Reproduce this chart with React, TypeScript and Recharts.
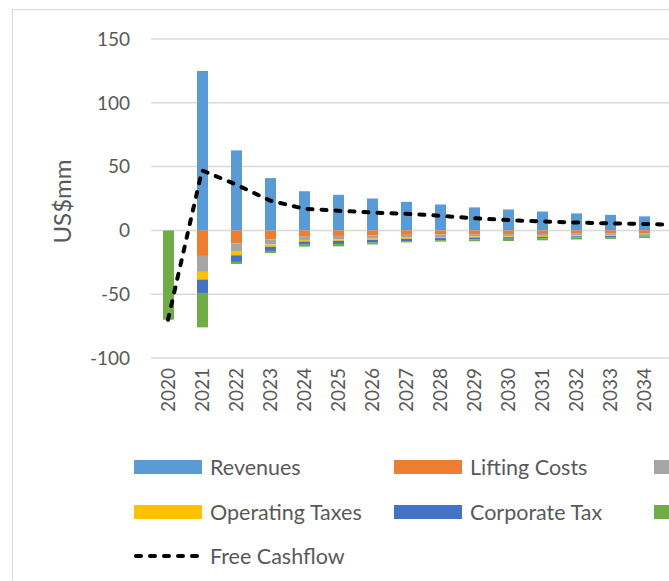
import { Bar, CartesianGrid, ComposedChart, Line, XAxis, YAxis } from 'recharts'

const years = ['2020', '2021', '2022', '2023', '2024', '2025', '2026', '2027', '2028', '2029', '2030', '2031', '2032', '2033', '2034', '2035']
const revenues = [0, 125, 62.7, 41, 30.7, 27.9, 25, 22.4, 20.3, 18, 16.4, 14.8, 13.3, 12.2, 11, 10]
const liftingCosts = [0, -20, -10.2, -7, -4.5, -4.3, -3.9, -3.5, -3.2, -3.0, -2.9, -2.8, -2.6, -2.5, -2.3, -2.1]
const royalties = [0, -12.5, -6.5, -4, -3, -2.8, -2.5, -2.2, -2.0, -1.8, -1.7, -1.5, -1.4, -1.3, -1.2, -1.1]
const operatingTaxes = [0, -6, -2.8, -1.8, -1.2, -1.1, -1.0, -0.9, -0.8, -0.8, -0.7, -0.7, -0.6, -0.6, -0.5, -0.5]
const corporateTax = [0, -10.5, -5.2, -3.3, -2.5, -2.4, -2.1, -1.8, -1.6, -1.4, -1.3, -1.1, -1.0, -0.9, -0.8, -0.7]
const capex = [-70, -27, -1.6, -1.6, -1.5, -1.9, -1.5, -1.0, -1.2, -1.5, -1.7, -1.7, -1.5, -1.4, -1.2, -1.2]
const freeCashflow = [-70, 47, 36, 23.4, 17, 15.4, 14, 13, 11.5, 9.5, 8.1, 7, 6.2, 5.5, 5, 4.4]
const yTicks = [-100, -50, 0, 50, 100, 150]

const series = [
  { key: 'revenues', name: 'Revenues', color: '#5B9BD5', values: revenues },
  { key: 'liftingCosts', name: 'Lifting Costs', color: '#ED7D31', values: liftingCosts },
  { key: 'royalties', name: 'Royalties', color: '#A5A5A5', values: royalties },
  { key: 'operatingTaxes', name: 'Operating Taxes', color: '#FFC000', values: operatingTaxes },
  { key: 'corporateTax', name: 'Corporate Tax', color: '#4472C4', values: corporateTax },
  { key: 'capex', name: 'Capex', color: '#70AD47', values: capex },
]

const data = years.map((year, i) => {
  const row: Record<string, string | number> = { year, freeCashflow: freeCashflow[i] }
  series.forEach(s => { row[s.key] = s.values[i] })
  return row
})

const FONT = 'Lato, "Noto Sans", sans-serif'
const TEXT = '#595959'
const DASH = '5 9'

function YearTick({ x, y, payload }: { x?: number; y?: number; payload?: { value: string } }) {
  return (
    <text x={x} y={y} dy="0.35em" textAnchor="end" fill={TEXT} fontSize={19} fontFamily={FONT}
      transform={`rotate(-90, ${x}, ${y})`}>
      {payload?.value}
    </text>
  )
}

function LegendItem({ left, top, name, color, dashed }: { left: number; top: number; name: string; color: string; dashed?: boolean }) {
  return (
    <div style={{ position: 'absolute', left, top, display: 'flex', alignItems: 'center', whiteSpace: 'nowrap' }}>
      {dashed ? (
        <svg width={68} height={14} style={{ display: 'block' }}>
          <line x1={2} y1={7} x2={66} y2={7} stroke="#000" strokeWidth={4} strokeDasharray={DASH} strokeLinecap="round" />
        </svg>
      ) : (
        <div style={{ width: 68, height: 14, background: color }} />
      )}
      <span style={{ marginLeft: 8, fontSize: 21.5, color: TEXT, fontFamily: FONT, lineHeight: '24px' }}>{name}</span>
    </div>
  )
}

// legend grid is three columns, Excel-style; the third one runs off the crop
const legendCols = [134, 394, 654]
const legendRows = [455, 500, 544]

export default function App() {
  return (
    <div style={{ position: 'fixed', left: 0, top: 0, width: 669, height: 581, overflow: 'hidden', background: '#fff' }}>
      <div style={{ position: 'absolute', left: 12, top: 9, width: 900, height: 700, border: '1px solid #d9d9d9' }} />
      <div style={{ position: 'absolute', left: 0, top: 0 }}>
        <ComposedChart width={705} height={581} data={data} stackOffset="sign"
          margin={{ top: 39, right: 10, bottom: 0, left: 0 }} barSize={11}>
          <CartesianGrid vertical={false} stroke="#d9d9d9" strokeWidth={1.5} />
          <XAxis dataKey="year" interval={0} axisLine={false} tickLine={false} tickSize={0} tickMargin={10}
            height={223} tick={<YearTick />} />
          <YAxis domain={[-100, 150]} ticks={yTicks} width={151} axisLine={false} tickLine={false}
            tickSize={0} tickMargin={21} allowDataOverflow
            tick={{ fill: TEXT, fontSize: 19, fontFamily: FONT }}
            label={{ value: 'US$mm', angle: -90, position: 'center', dx: -13, dy: 3, style: { fill: TEXT, fontSize: 24, fontFamily: FONT } }} />
          {series.map(s => (
            <Bar key={s.key} dataKey={s.key} name={s.name} stackId="cf" fill={s.color} isAnimationActive={false} />
          ))}
          <Line dataKey="freeCashflow" name="Free Cashflow" type="linear" stroke="#000" strokeWidth={4}
            strokeDasharray={DASH} strokeLinecap="round" dot={false} activeDot={false} isAnimationActive={false} />
        </ComposedChart>
      </div>
      {series.map((s, i) => (
        <LegendItem key={s.key} left={legendCols[i % 3]} top={legendRows[Math.floor(i / 3)]} name={s.name} color={s.color} />
      ))}
      <LegendItem left={legendCols[0]} top={legendRows[2]} name="Free Cashflow" color="#000" dashed />
    </div>
  )
}
